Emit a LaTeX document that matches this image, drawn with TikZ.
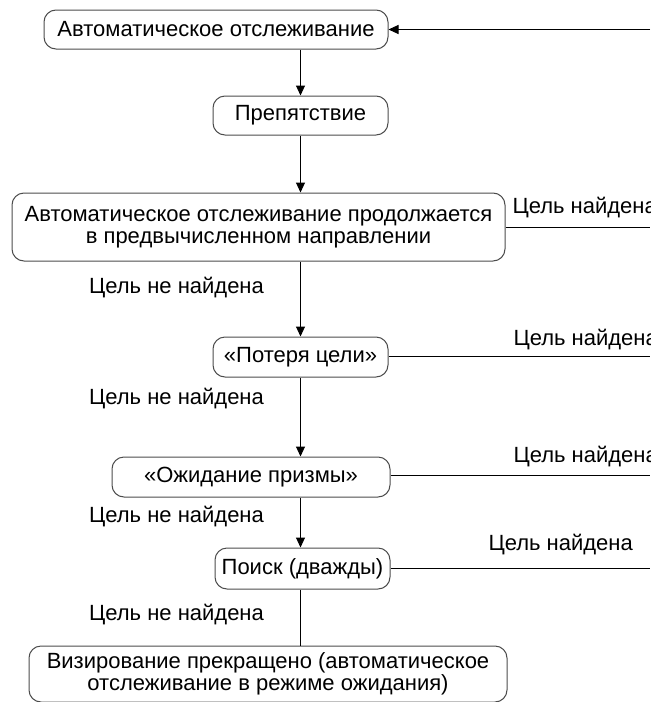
\documentclass[tikz,border=0pt]{standalone}
\usepackage{fontspec}
\setmainfont{Liberation Sans}
\usetikzlibrary{arrows.meta}

\begin{document}
\begin{tikzpicture}[x=0.5pt,y=-0.5pt,line width=0.5pt,
  box/.style={draw=black!70,rounded corners=6pt,inner sep=0pt,align=center,
    font=\fontsize{11}{10.8}\selectfont},
  lbl/.style={inner sep=0pt,font=\fontsize{11}{10.8}\selectfont},
  arr/.style={-{Triangle[length=5pt,width=4.5pt]}}]
  \useasboundingbox (0,0) rectangle (650,702);
  \node[box,minimum width=172pt,minimum height=19.5pt] (track) at (216,29.5) {Автоматическое отслеживание};
  \node[box,minimum width=87.5pt,minimum height=19.5pt] (obst) at (300.5,115.5) {Препятствие};
  \node[box,minimum width=246.5pt,minimum height=34pt] (pred) at (258.5,227)
    {Автоматическое отслеживание продолжается\\в предвычисленном направлении};
  \node[box,minimum width=87.5pt,minimum height=20pt] (lost) at (300.5,357) {«Потеря цели»};
  \node[box,minimum width=139pt,minimum height=20pt] (wait) at (251,477) {«Ожидание призмы»};
  \node[box,minimum width=87.5pt,minimum height=20.5pt] (search) at (302.5,568.5) {Поиск (дважды)};
  \node[box,minimum width=239pt,minimum height=28pt] (stop) at (268,674)
    {Визирование прекращено (автоматическое\\отслеживание в режиме ожидания)};
  \coordinate (back) at (650,29.5);
  \foreach \n/\y in {pred/227,lost/356,wait/475,search/568} \coordinate (\n-r) at (650,\y);
  \draw[arr] (track.south -| obst.north) -- (obst.north);
  \draw[arr] (obst) -- (pred.north -| obst);
  \draw[arr] (pred.south -| obst) -- (lost.north -| obst);
  \draw[arr] (lost) -- (wait.north -| obst);
  \draw[arr] (wait.south -| obst) -- (search.north -| obst);
  \draw (search.south -| obst) -- (stop.north -| obst);
  \draw[arr] (back) -- (track);
  \foreach \n in {pred,lost,wait,search} \draw (\n.east |- \n-r) -- (\n-r);
  \node[lbl,anchor=west] (f1) at (512,208) {Цель найдена};
  \node[lbl,anchor=west] (f2) at (513,340) {Цель найдена};
  \node[lbl,anchor=west] (f3) at (513,457) {Цель найдена};
  \node[lbl,anchor=west] (f4) at (488,545) {Цель найдена};
  \node[lbl] (n1) at (176.5,288) {Цель не найдена};
  \node[lbl] (n2) at (176.5,399) {Цель не найдена};
  \node[lbl] (n3) at (176.5,517) {Цель не найдена};
  \node[lbl] (n4) at (176.5,615) {Цель не найдена};
\end{tikzpicture}
\end{document}
